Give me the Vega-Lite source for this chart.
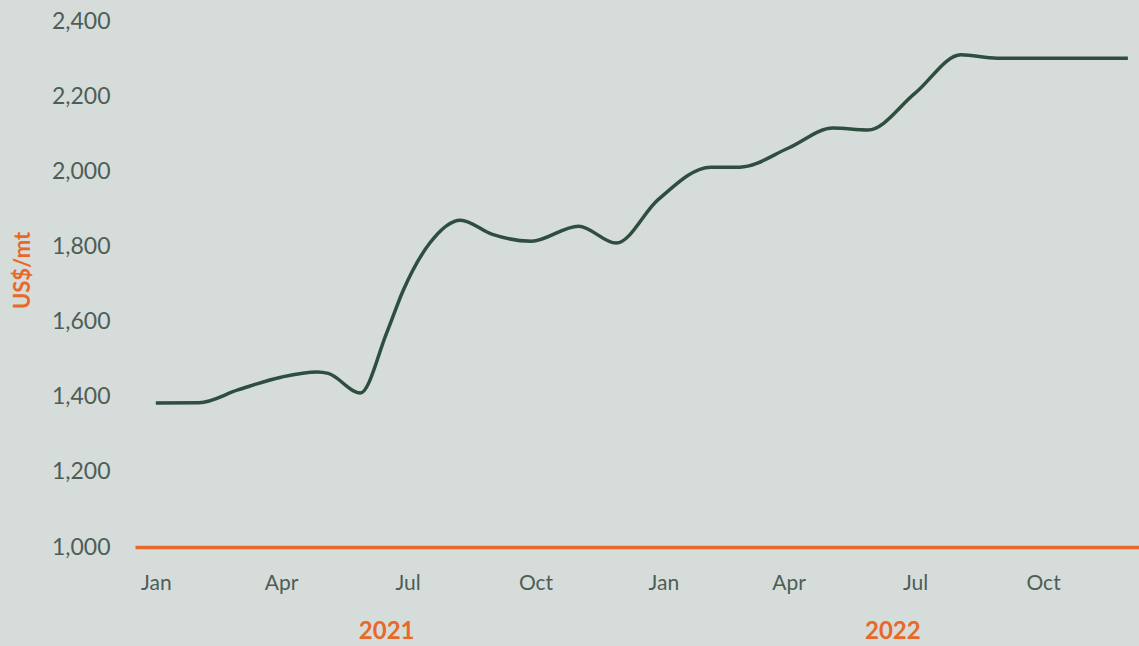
{
  "$schema": "https://vega.github.io/schema/vega-lite/v6.json",
  "autosize": "none",
  "width": 1004,
  "height": 526,
  "padding": {"left": 135, "top": 21, "right": 0, "bottom": 99},
  "background": "#d6dcd9",
  "config": {"view": {"stroke": null}, "font": "Lato"},
  "data": {"values": [
    {"date": "2021-01-01", "price": 1383},
    {"date": "2021-02-01", "price": 1384},
    {"date": "2021-03-01", "price": 1418},
    {"date": "2021-04-01", "price": 1452},
    {"date": "2021-04-27", "price": 1466},
    {"date": "2021-05-05", "price": 1462},
    {"date": "2021-05-28", "price": 1410},
    {"date": "2021-06-16", "price": 1570},
    {"date": "2021-06-28", "price": 1684},
    {"date": "2021-07-17", "price": 1809},
    {"date": "2021-08-08", "price": 1870},
    {"date": "2021-08-31", "price": 1832},
    {"date": "2021-09-28", "price": 1814},
    {"date": "2021-11-01", "price": 1854},
    {"date": "2021-11-28", "price": 1809},
    {"date": "2021-12-28", "price": 1924},
    {"date": "2022-02-04", "price": 2011},
    {"date": "2022-02-25", "price": 2011},
    {"date": "2022-04-01", "price": 2062},
    {"date": "2022-05-03", "price": 2115},
    {"date": "2022-05-28", "price": 2110},
    {"date": "2022-07-01", "price": 2208},
    {"date": "2022-08-03", "price": 2310},
    {"date": "2022-08-29", "price": 2301},
    {"date": "2022-12-01", "price": 2301}
  ]},
  "layer": [
    {
      "mark": {"type": "line", "color": "#2e4f3f", "strokeWidth": 3.5, "interpolate": "monotone"},
      "encoding": {
        "x": {
          "field": "date", "type": "temporal",
          "scale": {"type": "utc", "domain": [{"year": 2020, "month": 12, "date": 17, "utc": true}, {"year": 2022, "month": 12, "date": 9, "utc": true}]},
          "axis": {
            "title": null,
            "labelExpr": "utcFormat(datum.value, '%b')",
            "tickCount": {"interval": "month", "step": 3},
            "grid": false, "ticks": false,
            "domainColor": "#e8682a", "domainWidth": 3.5,
            "labelFont": "Lato", "labelFontSize": 21, "labelColor": "#4d5e56",
            "labelPadding": 25
          }
        },
        "y": {
          "field": "price", "type": "quantitative",
          "scale": {"domain": [1000, 2400], "nice": false, "zero": false},
          "axis": {
            "title": "US$/mt", "titleColor": "#e8682a", "titleFont": "Lato", "titleFontSize": 22, "titleFontWeight": "bold",
            "titleX": -113, "titleY": 249, "titleAngle": -90, "titleAlign": "center", "titleBaseline": "middle",
            "values": [1000, 1200, 1400, 1600, 1800, 2000, 2200, 2400],
            "format": ",d",
            "grid": false, "ticks": false, "domain": false,
            "labelFont": "Lato", "labelFontSize": 23, "labelColor": "#4d5e56",
            "labelPadding": 25
          }
        }
      }
    },
    {
      "data": {"values": [
        {"date": "2021-06-16", "label": "2021"},
        {"date": "2022-06-15", "label": "2022"}
      ]},
      "mark": {"type": "text", "color": "#e8682a", "font": "Lato", "fontSize": 24, "fontWeight": "bold", "baseline": "middle", "align": "center"},
      "encoding": {
        "x": {"field": "date", "type": "temporal"},
        "y": {"datum": 774},
        "text": {"field": "label"}
      }
    }
  ]
}
